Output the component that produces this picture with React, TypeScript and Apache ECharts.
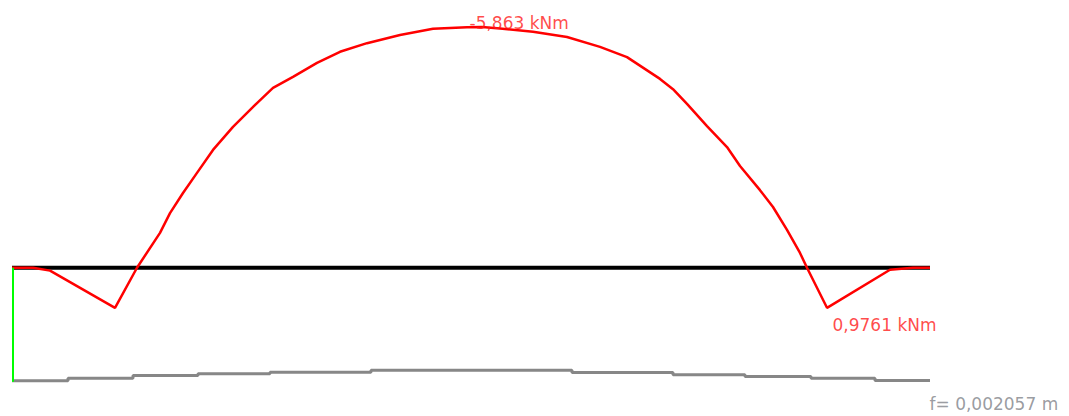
import React, { useEffect, useRef } from "react";
import * as echarts from "echarts";

// Beam span (m)
const beamLength = 9.18;
const beamX = [0, beamLength];
const beamY = [0, 0];

// Bending moment diagram (kNm), negative drawn upwards
const momentX = [0, 0.21, 0.38, 1.03, 1.25, 1.48, 1.58, 1.71, 1.85, 2.01, 2.21, 2.45, 2.61, 2.81, 3.05, 3.28, 3.55, 3.88, 4.21, 4.55, 4.7, 4.88, 5.21, 5.55, 5.88, 6.15, 6.48, 6.61, 6.75, 6.95, 7.15, 7.28, 7.48, 7.61, 7.75, 7.88, 7.95, 8.15, 8.78, 9.01, 9.18];
const momentM = [0, 0, 0.07, 0.9761, 0, -0.85, -1.33, -1.82, -2.31, -2.87, -3.43, -4.01, -4.38, -4.65, -4.99, -5.26, -5.47, -5.67, -5.82, -5.855, -5.863, -5.83, -5.75, -5.62, -5.38, -5.13, -4.6, -4.35, -3.99, -3.45, -2.94, -2.48, -1.89, -1.48, -0.92, -0.36, 0, 0.9761, 0.05, 0, 0];

// Extreme moment labels
const minMoment = { x: 4.7, m: -5.863 };
const maxMoment = { x: 8.15, m: 0.9761 };

// Deflection line (m), stepwise as in the reference
const deflX = [0, 0.56, 1.21, 1.86, 2.58, 3.59, 5.6, 6.61, 7.33, 7.99, 8.63, 9.18];
const deflF = [0, 0.00052, 0.00102, 0.00135, 0.00167, 0.002057, 0.0016, 0.00115, 0.00083, 0.00052, 0.00006, 0.00006];
const maxDeflection = 0.002057;

const fmt = (v: number) => String(v).replace(".", ",");

export default function App() {
  const ref = useRef<HTMLDivElement>(null);
  useEffect(() => {
    if (!ref.current) return;
    const chart = echarts.init(ref.current, undefined, { renderer: "svg" });
    const font = "DejaVu Sans";
    chart.setOption({
      animation: false,
      backgroundColor: "#ffffff",
      grid: [
        { left: 12, width: 918, top: 5, height: 312 },
        { left: 12, width: 918, top: 360, height: 30 },
      ],
      xAxis: [
        { type: "value", gridIndex: 0, min: 0, max: beamLength, show: false },
        { type: "value", gridIndex: 1, min: 0, max: beamLength, show: false },
      ],
      yAxis: [
        { type: "value", gridIndex: 0, min: -6.4, max: 1.2, inverse: true, show: false },
        { type: "value", gridIndex: 1, min: -0.00175, max: 0.004, show: false },
      ],
      series: [
        {
          type: "line",
          xAxisIndex: 1,
          yAxisIndex: 1,
          data: deflX.map((x, i) => [x, deflF[i]]),
          step: "end",
          showSymbol: false,
          clip: false,
          lineStyle: { color: "#878787", width: 3 },
          z: 2,
        },
        {
          type: "line",
          xAxisIndex: 0,
          yAxisIndex: 0,
          data: beamX.map((x, i) => [x, beamY[i]]),
          showSymbol: false,
          clip: false,
          lineStyle: { color: "#000000", width: 4 },
          z: 3,
        },
        {
          type: "line",
          xAxisIndex: 0,
          yAxisIndex: 0,
          data: momentX.map((x, i) => [x, momentM[i]]),
          showSymbol: false,
          clip: false,
          lineStyle: { color: "#ff0000", width: 2.5 },
          z: 4,
        },
        {
          type: "scatter",
          xAxisIndex: 0,
          yAxisIndex: 0,
          symbolSize: 1,
          itemStyle: { color: "transparent" },
          z: 5,
          data: [
            {
              value: [minMoment.x, minMoment.m],
              label: { show: true, position: [-12, -4], formatter: () => `${fmt(minMoment.m)} kNm` },
            },
            {
              value: [maxMoment.x, maxMoment.m],
              label: { show: true, position: [6, 18], formatter: () => `${fmt(maxMoment.m)} kNm` },
            },
          ],
          label: {
            color: "#ff1a1a",
            fontFamily: font,
            fontSize: 17,
            align: "left",
            verticalAlign: "middle",
          },
        },
        {
          type: "scatter",
          xAxisIndex: 1,
          yAxisIndex: 1,
          symbolSize: 1,
          itemStyle: { color: "transparent" },
          z: 5,
          data: [
            {
              value: [beamLength, 0],
              label: {
                show: true,
                position: [0, 24],
                formatter: () => `f= ${fmt(maxDeflection)} m`,
              },
            },
          ],
          label: {
            color: "#7f8288",
            fontFamily: font,
            fontSize: 17,
            align: "left",
            verticalAlign: "middle",
          },
        },
      ],
    });
    const p1 = chart.convertToPixel({ xAxisIndex: 0, yAxisIndex: 0 }, [0, 0]) as number[];
    const p2 = chart.convertToPixel({ xAxisIndex: 1, yAxisIndex: 1 }, [0, 0]) as number[];
    chart.setOption({
      graphic: [
        {
          type: "line",
          z: 10,
          shape: { x1: p1[0] + 1, y1: p1[1], x2: p2[0] + 1, y2: p2[1] + 1 },
          style: { stroke: "#00ff00", lineWidth: 2 },
        },
      ],
    });
    return () => chart.dispose();
  }, []);
  return (
    <div
      ref={ref}
      style={{ position: "fixed", left: 0, top: 0, width: 1069, height: 416 }}
    />
  );
}
